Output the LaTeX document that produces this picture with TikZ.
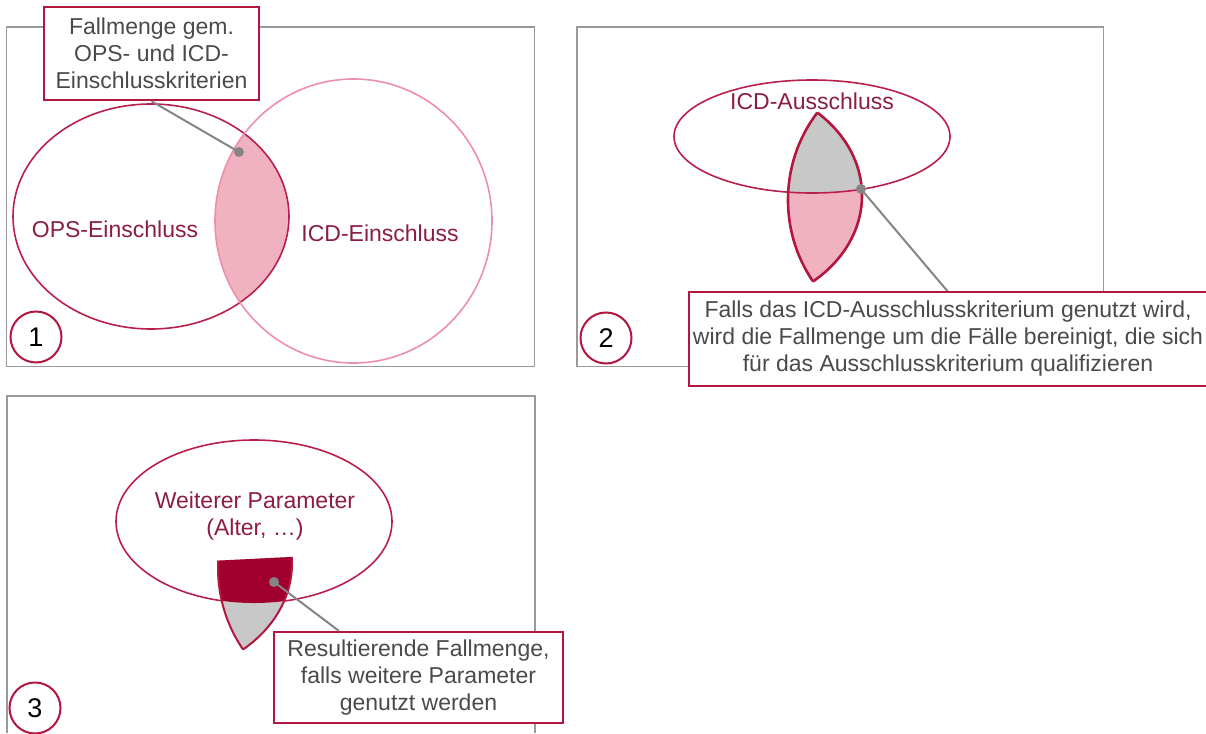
\documentclass[tikz,border=0pt]{standalone}
\usepackage{fontspec}
\setmainfont{Liberation Sans}
\definecolor{framegray}{HTML}{9A9A9A}
\definecolor{boxred}{HTML}{B3163F}
\definecolor{opsred}{HTML}{B8204B}
\definecolor{icdpink}{HTML}{EC8FA8}
\definecolor{lenspink}{HTML}{F0B1C0}
\definecolor{labelred}{HTML}{8C1D42}
\definecolor{boxtext}{HTML}{4A4A4A}
\definecolor{leadgray}{HTML}{858585}
\definecolor{lensgray}{HTML}{C8C8C8}
\definecolor{darkred}{HTML}{A1002F}
\tikzset{
  frame/.style={draw=framegray, line width=1.4},
  callout/.style={draw=boxred, line width=2.4, fill=white, align=center, text=boxtext,
    font=\fontsize{23}{27}\selectfont, inner sep=0, rectangle},
  numcirc/.style={circle, draw=boxred, line width=2, minimum size=51, inner sep=0,
    font=\fontsize{27}{30}\selectfont, fill=white},
  setlabel/.style={text=labelred, font=\fontsize{23}{27}\selectfont, align=center, inner sep=0},
  leader/.style={draw=leadgray, line width=2},
  dotc/.style={circle, fill=leadgray, minimum size=10, inner sep=0},
  lensline/.style={draw=boxred, line width=2.6}
}
\begin{document}
\begin{tikzpicture}[x=1pt,y=-1pt]
\useasboundingbox (0,0) rectangle (1206,733);
% ---------- frames
\draw[frame] (6.5,27) rectangle (534.5,366.5);
\draw[frame] (577,27) rectangle (1103.5,366.5);
\draw[frame] (7,733) -- (7,396) -- (535,396) -- (535,733);

% ---------- panel 1
\begin{scope}
  \clip (151,216.5) ellipse [x radius=138, y radius=112.5];
  \fill[lenspink] (353.5,221) ellipse [x radius=138.5, y radius=142];
\end{scope}
\draw[opsred, line width=1.6] (151,216.5) ellipse [x radius=138, y radius=112.5];
\draw[icdpink, line width=1.6] (353.5,221) ellipse [x radius=138.5, y radius=142];
\node[setlabel] (ops) at (115,229) {OPS-Einschluss};
\node[setlabel] (icd) at (380,233) {ICD-Einschluss};
\node[dotc] (dot1) at (239,152) {};
\node[callout, minimum width=215, minimum height=93] (box1) at (151.5,53.5)
  {Fallmenge gem.\\OPS- und ICD-\\Einschlusskriterien};
\draw[leader] (box1.south) -- (dot1.center);
\node[numcirc] (n1) at (36,337) {1};

% ---------- panel 2
\begin{scope}
  \clip[shift={(573,-21)}] (151,216.5) ellipse [x radius=138, y radius=112.5];
  \clip[shift={(573,-21)}] (353.5,221) ellipse [x radius=138.5, y radius=142];
  \fill[lenspink] (700,0) rectangle (950,400);
  \clip (812,136.5) ellipse [x radius=138, y radius=56.5];
  \fill[lensgray] (700,0) rectangle (950,400);
\end{scope}
\begin{scope}
  \clip[shift={(573,-21)}] (151,216.5) ellipse [x radius=138, y radius=112.5];
  \draw[lensline, shift={(573,-21)}] (353.5,221) ellipse [x radius=138.5, y radius=142];
\end{scope}
\begin{scope}
  \clip[shift={(573,-21)}] (353.5,221) ellipse [x radius=138.5, y radius=142];
  \draw[lensline, shift={(573,-21)}] (151,216.5) ellipse [x radius=138, y radius=112.5];
\end{scope}
\draw[opsred, line width=1.6] (812,136.5) ellipse [x radius=138, y radius=56.5];
\node[setlabel] (icdaus) at (812,101) {ICD-Ausschluss};
\node[dotc] (dot2) at (861,189) {};
\node[callout, draw=none, minimum width=516, minimum height=92] (box2) at (948,339)
  {Falls das ICD-Ausschlusskriterium genutzt wird,\\wird die Fallmenge um die Fälle bereinigt, die sich\\für das Ausschlusskriterium qualifizieren};
\draw[leader] (dot2.center) -- (box2.north);
\draw[boxred, line width=2.4] (box2.north east) -- (box2.north west) -- (box2.south west) -- (box2.south east);
\node[numcirc] (n2) at (606,338) {2};

% ---------- panel 3
\draw[opsred, line width=1.6] (254,521.5) ellipse [x radius=138, y radius=81.5];
\begin{scope}
  \clip (200,561.5) -- (300,556.5) -- (300,700) -- (200,700) -- cycle;
  \clip[shift={(3,347)}] (151,216.5) ellipse [x radius=138, y radius=112.5];
  \clip[shift={(3,347)}] (353.5,221) ellipse [x radius=138.5, y radius=142];
  \fill[lensgray] (200,500) rectangle (300,700);
  \fill[darkred] (254,521.5) ellipse [x radius=138, y radius=81.5];
\end{scope}
\begin{scope}
  \clip (200,561.5) -- (300,556.5) -- (300,700) -- (200,700) -- cycle;
  \clip[shift={(3,347)}] (151,216.5) ellipse [x radius=138, y radius=112.5];
  \draw[draw=boxred, line width=2, shift={(3,347)}] (353.5,221) ellipse [x radius=138.5, y radius=142];
\end{scope}
\begin{scope}
  \clip (200,561.5) -- (300,556.5) -- (300,700) -- (200,700) -- cycle;
  \clip[shift={(3,347)}] (353.5,221) ellipse [x radius=138.5, y radius=142];
  \draw[draw=boxred, line width=2, shift={(3,347)}] (151,216.5) ellipse [x radius=138, y radius=112.5];
\end{scope}
\node[setlabel] (weiter) at (255,516.5) {Weiterer Parameter\\(Alter, …)};
\node[dotc] (dot3) at (274,582) {};
\node[callout, minimum width=289, minimum height=91] (box3) at (418.5,677.5)
  {Resultierende Fallmenge,\\falls weitere Parameter\\genutzt werden};
\draw[leader] (dot3.center) -- ([xshift=66]box3.north west);
\node[numcirc, fill=none] (n3) at (35,708) {3};
\end{tikzpicture}
\end{document}
